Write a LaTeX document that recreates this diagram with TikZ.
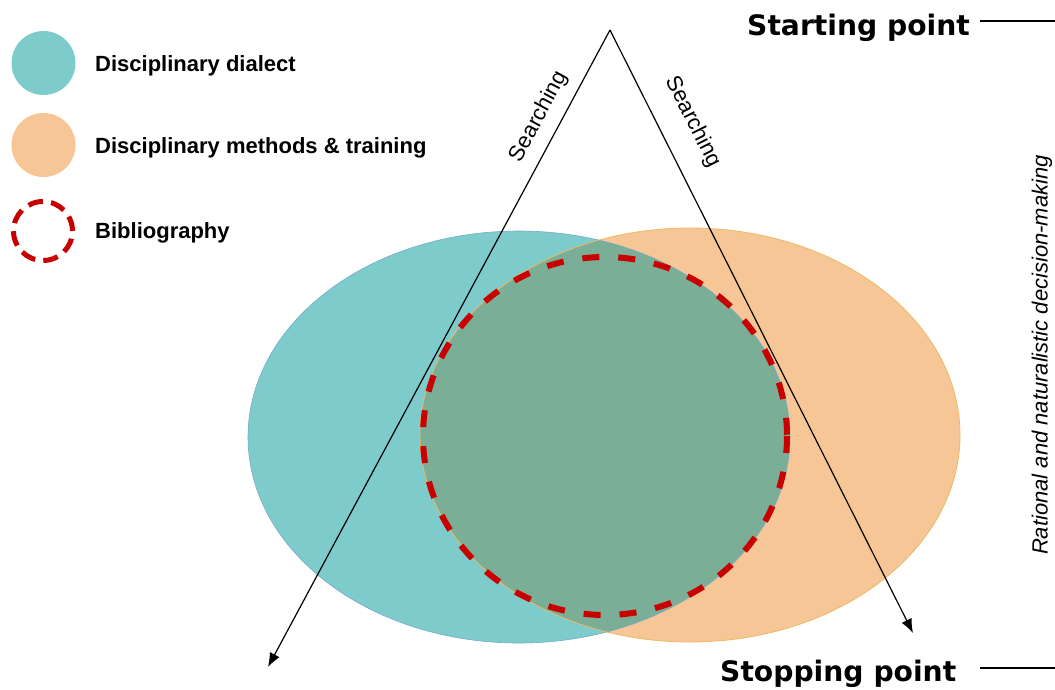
\documentclass[tikz,border=0pt]{standalone}
\usepackage{fontspec}
\setmainfont{Liberation Sans}
\newfontfamily\headfont{DejaVu Sans}
\usetikzlibrary{arrows.meta}
\definecolor{tealfill}{RGB}{126,203,204}
\definecolor{tealline}{RGB}{120,170,200}
\definecolor{orangefill}{RGB}{246,198,150}
\definecolor{orangeline}{RGB}{236,186,100}
\definecolor{overlapfill}{RGB}{123,174,151}
\definecolor{bibred}{RGB}{200,0,0}
\tikzset{
  legtext/.style={font=\fontsize{22}{26}\selectfont\bfseries, inner sep=0pt},
  headtext/.style={font=\headfont\fontsize{28.2}{32}\selectfont\bfseries, inner sep=0pt},
  searchtext/.style={font=\fontsize{22}{26}\selectfont, inner sep=0pt},
  sidetext/.style={font=\fontsize{22}{26}\selectfont\itshape, inner sep=0pt},
  arr/.style={line width=1.2pt, -{Latex[length=14pt,width=11pt]}},
  rule/.style={line width=1.6pt},
  legcircle/.style={circle, inner sep=0pt, minimum size=64pt},
  bibdash/.style={draw=bibred, line width=6pt, dash pattern=on 17pt off 19pt},
}
\begin{document}
\begin{tikzpicture}[x=1pt,y=-1pt]
\useasboundingbox (0,0) rectangle (1055,689);

% Venn ellipses
\fill[tealfill] (519,437) ellipse [x radius=271, y radius=206];
\fill[orangefill] (690,435) ellipse [x radius=270, y radius=207];
\begin{scope}
  \clip (519,437) ellipse [x radius=271, y radius=206];
  \fill[overlapfill] (690,435) ellipse [x radius=270, y radius=207];
\end{scope}
\draw[orangeline, line width=0.8pt] (690,435) ellipse [x radius=270, y radius=207];
\draw[tealline, line width=0.6pt] (519,437) ellipse [x radius=271, y radius=206];

% Bibliography dashed circle
\draw[bibdash] (605,436) ellipse [x radius=182, y radius=179];

% Legend
\node[legcircle, fill=tealfill] (c1) at (43.5,63) {};
\node[legcircle, fill=orangefill] (c2) at (43.5,145) {};
\node[legcircle, minimum size=59pt, draw=bibred, line width=5pt, dash pattern=on 15pt off 8.2pt] (c3) at (43,231) {};
\node[legtext, anchor=base west] (l1) at (95,71) {Disciplinary dialect};
\node[legtext, anchor=base west] (l2) at (95,153) {Disciplinary methods \& training};
\node[legtext, anchor=base west] (l3) at (95,238) {Bibliography};

% Searching triangle
\coordinate (apex) at (610,30);
\coordinate (endL) at (268,667);
\coordinate (endR) at (913,633);
\draw[arr] (apex) -- (endL);
\draw[arr] (apex) -- (endR);
\node[searchtext, rotate=61.7] (s1) at (539,117) {Searching};
\node[searchtext, rotate=-63.4] (s2) at (693,122) {Searching};

% Starting / stopping
\node[headtext, anchor=base west] (start) at (747,35) {Starting point};
\node[headtext, anchor=base west] (stop) at (720,681) {Stopping point};
\coordinate (startA) at (980,21);
\coordinate (startB) at (1055,21);
\coordinate (stopA) at (980,668);
\coordinate (stopB) at (1055,668);
\draw[rule] (startA) -- (startB);
\draw[rule] (stopA) -- (stopB);

\node[sidetext, rotate=90] (side) at (1042,355) {Rational and naturalistic decision-making};
\end{tikzpicture}
\end{document}
